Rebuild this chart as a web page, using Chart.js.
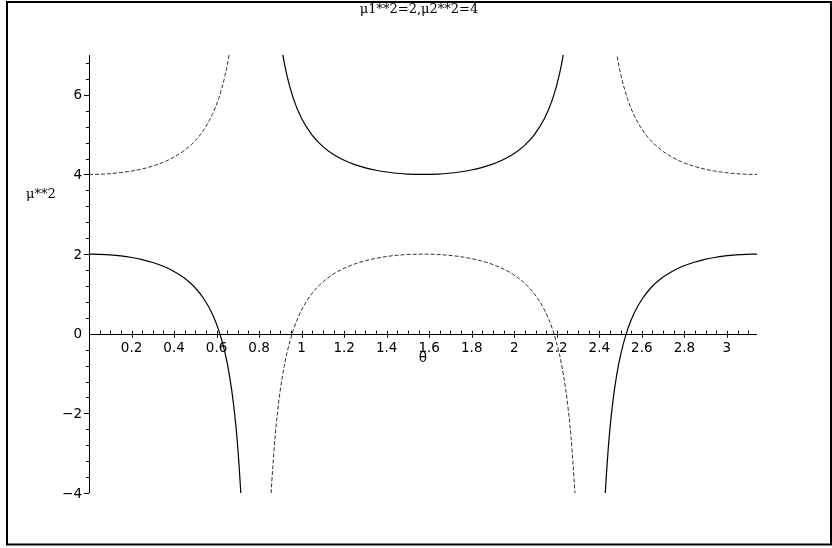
<!DOCTYPE html>
<html>
<head>
<meta charset="utf-8">
<script src="https://cdn.jsdelivr.net/npm/chart.js@4/dist/chart.umd.min.js"></script>
<style>
	html, body { margin: 0; padding: 0; background: #fff; }
	#wrap { width: 832px; height: 548px; }
</style>
</head>
<body>
<div id="wrap"><canvas id="muChart" width="832" height="548"></canvas></div>
<script>
// theta values (x) and the two branches of mu**2
const theta = [
	0, 0.05, 0.1, 0.15, 0.2, 0.25, 0.3, 0.35, 0.4, 0.45,
	0.5, 0.54, 0.58, 0.61, 0.64, 0.66, 0.68, 0.7, 0.72, 0.74,
	0.785, 0.83, 0.85, 0.87, 0.89, 0.91, 0.93, 0.96, 1.0, 1.05,
	1.1, 1.15, 1.2, 1.25, 1.3, 1.35, 1.4, 1.45, 1.5, 1.571,
	1.642, 1.692, 1.742, 1.792, 1.842, 1.892, 1.942, 1.992, 2.042, 2.092,
	2.142, 2.182, 2.212, 2.232, 2.252, 2.272, 2.292, 2.312, 2.356, 2.402,
	2.422, 2.442, 2.462, 2.482, 2.502, 2.532, 2.562, 2.602, 2.642, 2.692,
	2.742, 2.792, 2.842, 2.892, 2.942, 2.992, 3.042, 3.092, 3.1416
];

// solid branch
const muSolid = [
	2, 1.995, 1.980, 1.953, 1.914, 1.861, 1.788, 1.693, 1.565, 1.391,
	1.149, 0.878, 0.496, 0.090, -0.488, -1.029, -1.779, -2.883, -4.667, -8.029,
	null, 14.225, 10.761, 8.938, 7.815, 7.055, 6.506, 5.923, 5.403, 4.981,
	4.699, 4.501, 4.356, 4.248, 4.167, 4.106, 4.061, 4.030, 4.010, 4.000,
	4.010, 4.030, 4.061, 4.106, 4.167, 4.248, 4.356, 4.501, 4.699, 4.981,
	5.403, 5.923, 6.506, 7.055, 7.815, 8.938, 10.761, 14.225, null, -8.029,
	-4.667, -2.883, -1.779, -1.029, -0.488, 0.090, 0.496, 0.878, 1.149, 1.391,
	1.565, 1.693, 1.788, 1.861, 1.914, 1.953, 1.980, 1.995, 2.000
];

// dashed branch
const muDashed = [
	4, 4.005, 4.020, 4.047, 4.086, 4.139, 4.212, 4.307, 4.435, 4.609,
	4.851, 5.122, 5.504, 5.910, 6.488, 7.029, 7.779, 8.883, 10.667, 14.029,
	null, -8.225, -4.761, -2.938, -1.815, -1.055, -0.506, 0.077, 0.597, 1.019,
	1.301, 1.499, 1.644, 1.752, 1.833, 1.894, 1.939, 1.970, 1.990, 2.000,
	1.990, 1.970, 1.939, 1.894, 1.833, 1.752, 1.644, 1.499, 1.301, 1.019,
	0.597, 0.077, -0.506, -1.055, -1.815, -2.938, -4.761, -8.225, null, 14.029,
	10.667, 8.883, 7.779, 7.029, 6.488, 5.910, 5.504, 5.122, 4.851, 4.609,
	4.435, 4.307, 4.212, 4.139, 4.086, 4.047, 4.020, 4.005, 4.000
];

// tick labels
const xTickLabels = ['0.2', '0.4', '0.6', '0.8', '1', '1.2', '1.4', '1.6', '1.8', '2', '2.2', '2.4', '2.6', '2.8', '3'];
const yTickLabels = ['−4', '−2', '0', '2', '4', '6'];
const yTickValues = [-4, -2, 0, 2, 4, 6];

const chartTitle = 'μ1**2=2,μ2**2=4';
const xTitle = 'θ';
const yTitle = 'μ**2';

const toPoints = (ys) => theta.map((t, i) => ({ x: t, y: ys[i] }));

// Maple style axes through the origin, drawn with the chart scales
const mapleAxes = {
	id: 'mapleAxes',
	afterDatasetsDraw(chart) {
		const { ctx, chartArea, scales: { x, y } } = chart;
		const x0 = x.getPixelForValue(0);
		const y0 = y.getPixelForValue(0);

		ctx.save();
		ctx.strokeStyle = '#000';
		ctx.fillStyle = '#000';
		ctx.lineWidth = 1;

		// axis lines
		ctx.beginPath();
		ctx.moveTo(chartArea.left, Math.round(y0) + 0.5);
		ctx.lineTo(chartArea.right, Math.round(y0) + 0.5);
		ctx.moveTo(Math.round(x0) + 0.5, chartArea.top);
		ctx.lineTo(Math.round(x0) + 0.5, chartArea.bottom);
		ctx.stroke();

		// x ticks, minor every 0.05
		ctx.beginPath();
		for (let k = 1; k * 0.05 <= Math.PI; k++) {
			const px = Math.round(x.getPixelForValue(k * 0.05)) + 0.5;
			const major = k % 4 === 0;
			ctx.moveTo(px, y0 - 3);
			ctx.lineTo(px, major ? y0 + 4 : y0);
		}
		// y ticks, minor every 0.4
		for (let k = -10; k * 0.4 <= 7.001; k++) {
			if (k === 0) continue;
			const py = Math.round(y.getPixelForValue(k * 0.4)) + 0.5;
			const major = k % 5 === 0;
			ctx.moveTo(x0 - (major ? 5 : 3), py);
			ctx.lineTo(x0, py);
		}
		ctx.stroke();

		// tick labels
		ctx.font = '13.5px "DejaVu Sans"';
		ctx.textAlign = 'center';
		ctx.textBaseline = 'alphabetic';
		xTickLabels.forEach((lab) => {
			ctx.fillText(lab, x.getPixelForValue(parseFloat(lab)), y0 + 18);
		});
		ctx.textAlign = 'right';
		ctx.textBaseline = 'middle';
		yTickValues.forEach((v, i) => {
			ctx.fillText(yTickLabels[i], x0 - 7, y.getPixelForValue(v) + 1);
		});

		// axis titles
		ctx.textAlign = 'center';
		ctx.textBaseline = 'alphabetic';
		ctx.fillText(xTitle, (chartArea.left + chartArea.right) / 2, y0 + 28);
		ctx.font = '13px "DejaVu Serif"';
		ctx.textAlign = 'left';
		ctx.textBaseline = 'middle';
		ctx.fillText(yTitle, 26, 195);

		// title
		ctx.textAlign = 'center';
		ctx.textBaseline = 'alphabetic';
		ctx.fillText(chartTitle, 419, 13);

		// frame
		ctx.lineWidth = 2;
		ctx.strokeRect(7, 2, 824, 542.5);
		ctx.restore();
	}
};

const ctx = document.getElementById('muChart').getContext('2d');

const muChart = new Chart(ctx, {
	type: 'line',
	data: {
		datasets: [{
			label: 'solid',
			data: toPoints(muSolid),
			borderColor: '#000',
			borderWidth: 1.2,
			cubicInterpolationMode: 'monotone',
			spanGaps: false
		}, {
			label: 'dashed',
			data: toPoints(muDashed),
			borderColor: '#333',
			borderWidth: 1,
			borderDash: [4, 2],
			cubicInterpolationMode: 'monotone',
			spanGaps: false
		}]
	},
	options: {
		responsive: false,
		animation: false,
		layout: { padding: { left: 89, right: 75, top: 55, bottom: 55 } },
		elements: { point: { radius: 0 } },
		plugins: {
			legend: { display: false },
			tooltip: { enabled: false }
		},
		scales: {
			x: { type: 'linear', min: 0, max: Math.PI, display: false },
			y: { type: 'linear', min: -4, max: 7, display: false }
		}
	},
	plugins: [mapleAxes]
});
</script>
</body>
</html>
